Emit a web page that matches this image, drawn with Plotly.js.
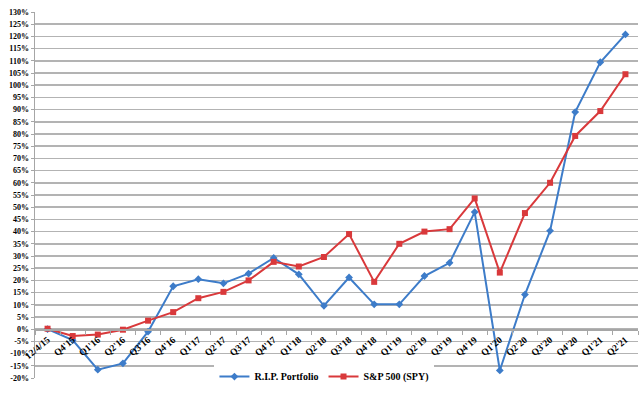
<!DOCTYPE html>
<html>
<head>
<meta charset="utf-8">
<script src="https://cdn.plot.ly/plotly-3.0.1.min.js"></script>
<style>html,body{margin:0;padding:0;background:#fff}#chart{width:640px;height:393px}</style>
</head>
<body>
<div id="chart"></div>
<script>
const categories = ["12/4/15","Q4'15","Q1'16","Q2'16","Q3'16","Q4'16","Q1'17","Q2'17","Q3'17","Q4'17","Q1'18","Q2'18","Q3'18","Q4'18","Q1'19","Q2'19","Q3'19","Q4'19","Q1'20","Q2'20","Q3'20","Q4'20","Q1'21","Q2'21"];
const ripPortfolio = [0,-4.5,-16.6,-14,-1,17.6,20.5,18.8,22.8,29.2,22.5,9.6,21.2,10.2,10.2,21.8,27.2,48,-16.9,14.2,40.3,89,109.4,120.8];
const spy = [0.2,-2.8,-2.2,-0.2,3.5,7,12.7,15.3,20,27.6,25.7,29.6,39,19.4,35,40,41,53.6,23.2,47.6,60,79.2,89.4,104.5];
const yTickVals = [-20,-15,-10,-5,0,5,10,15,20,25,30,35,40,45,50,55,60,65,70,75,80,85,90,95,100,105,110,115,120,125,130];
const yTickText = yTickVals.map(v => "<b>" + v + "%</b>");

const font = {family: "Liberation Serif, Times New Roman, serif", color: "#000"};
const traces = [
  {x: categories, y: ripPortfolio, name: "<b>R.I.P. Portfolio</b>", type: "scatter", mode: "lines+markers",
   line: {color: "#3d7cc9", width: 2}, marker: {symbol: "diamond", size: 6, color: "#3d7cc9"}},
  {x: categories, y: spy, name: "<b>S&P 500 (SPY)</b>", type: "scatter", mode: "lines+markers",
   line: {color: "#d9393b", width: 2}, marker: {symbol: "square", size: 6, color: "#d9393b"}}
];
const layout = {
  width: 640, height: 393,
  margin: {l: 35, r: 2, t: 12, b: 8},
  paper_bgcolor: "#fff", plot_bgcolor: "#fff",
  showlegend: true,
  legend: {orientation: "h", x: 0.48, xanchor: "center", y: 0.004, yanchor: "middle",
           bgcolor: "#fff", font: Object.assign({}, font, {size: 10}), tracegroupgap: 0},
  xaxis: {type: "category", anchor: "free", position: 20/150, showgrid: false, zeroline: false,
          showline: true, linecolor: "#a6a6a6", linewidth: 1.5,
          ticks: "outside", tickson: "boundaries", ticklen: 4, tickcolor: "#a6a6a6",
          tickangle: -40, tickfont: Object.assign({}, font, {size: 9.5, weight: "bold"}),
          range: [-0.5, categories.length - 0.5]},
  yaxis: {range: [-20, 130], tickmode: "array", tickvals: yTickVals, ticktext: yTickText, showgrid: true,
          gridcolor: "#b3b3b3", gridwidth: 1.5, zeroline: false,
          showline: true, linecolor: "#a6a6a6", linewidth: 1.5,
          ticks: "outside", ticklen: 3, tickcolor: "#a6a6a6",
          tickfont: Object.assign({}, font, {size: 8})}
};
Plotly.newPlot("chart", traces, layout, {displayModeBar: false, staticPlot: true});
</script>
</body>
</html>
